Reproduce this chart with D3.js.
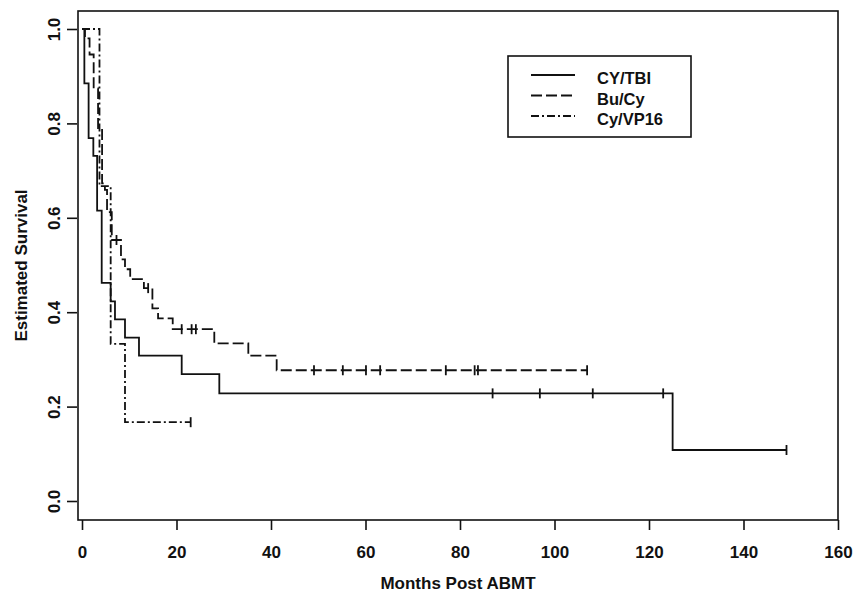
<!DOCTYPE html>
<html>
<head>
<meta charset="utf-8">
<script src="https://cdn.jsdelivr.net/npm/d3@7"></script>
<style>
  html, body { margin: 0; padding: 0; background: #fff; }
  svg { display: block; }
  text { font-family: "Liberation Sans", Arial, Helvetica, sans-serif; fill: #111; font-weight: bold; }
</style>
</head>
<body>
<svg id="chart" width="856" height="598"></svg>
<script>
// ---- data ----
const seriesNames = ["CY/TBI", "Bu/Cy", "Cy/VP16"];

const cyTbiTimes = [0, 0.5, 1.4, 2.4, 3.2, 4.17, 6.07, 6.98, 9.1, 12.06, 21.1, 29.06, 125.0, 149.1];
const cyTbiSurv  = [1.0, 0.885, 0.769, 0.731, 0.615, 0.462, 0.423, 0.385, 0.346, 0.308, 0.269, 0.228, 0.108, 0.108];
const cyTbiCensor = [86.9, 96.9, 108.1, 123.0, 149.1];

const buCyTimes = [0, 0.63, 1.6, 2.47, 3.4, 4.25, 4.85, 5.3, 6.3, 8.25, 9.1, 10.2, 13.1, 14.9, 16.1, 19.2, 28.0, 35.2, 41.2, 106.9];
const buCySurv  = [1.0, 0.98, 0.946, 0.874, 0.79, 0.673, 0.659, 0.612, 0.553, 0.512, 0.491, 0.470, 0.451, 0.408, 0.387, 0.364, 0.334, 0.308, 0.277, 0.277];
const buCyCensor = [7.3, 14.0, 21.1, 23.2, 24.1, 49.1, 55.2, 60.1, 63.1, 77.0, 83.1, 83.8, 106.9];

const vp16Times = [0, 3.7, 6.07, 9.1, 23.0];
const vp16Surv  = [1.0, 0.667, 0.333, 0.167, 0.167];
const vp16Censor = [23.0];

const xTicks = [0, 20, 40, 60, 80, 100, 120, 140, 160];
const yTicks = [0.0, 0.2, 0.4, 0.6, 0.8, 1.0];

const xTitle = "Months Post ABMT";
const yTitle = "Estimated Survival";

// ---- layout ----
const svg = d3.select("#chart");
const x = d3.scaleLinear().domain([0, 160]).range([82, 838]);
const y = d3.scaleLinear().domain([0, 1]).range([501, 29]);
const box = { left: 78, right: 838, top: 11, bottom: 520 };
const ink = "#111";

// frame
svg.append("rect")
  .attr("x", box.left).attr("y", box.top)
  .attr("width", box.right - box.left).attr("height", box.bottom - box.top)
  .attr("fill", "none").attr("stroke", ink).attr("stroke-width", 1.6);

// x axis
const gx = svg.append("g")
  .attr("transform", `translate(0,${box.bottom})`)
  .call(d3.axisBottom(x).tickValues(xTicks).tickSize(10).tickPadding(16).tickFormat(d3.format("d")));
gx.select(".domain").remove();
gx.selectAll(".tick line").attr("stroke", ink).attr("stroke-width", 1.6);
gx.selectAll(".tick text").style("font-size", "17px").attr("fill", ink);

// y axis
const gy = svg.append("g")
  .attr("transform", `translate(${box.left - 1},0)`)
  .call(d3.axisLeft(y).tickValues(yTicks).tickSize(10).tickFormat(d3.format(".1f")));
gy.select(".domain").remove();
gy.selectAll(".tick line").attr("stroke", ink).attr("stroke-width", 1.6);
gy.selectAll(".tick text")
  .attr("x", null).attr("dy", null)
  .attr("text-anchor", "middle")
  .attr("transform", "translate(-17,0) rotate(-90)")
  .style("font-size", "17px").attr("fill", ink);

// titles
svg.append("text")
  .attr("x", (box.left + box.right) / 2).attr("y", 589)
  .attr("text-anchor", "middle").style("font-size", "17px")
  .text(xTitle);
svg.append("text")
  .attr("transform", `translate(27,${(box.top + box.bottom) / 2}) rotate(-90)`)
  .attr("text-anchor", "middle").style("font-size", "17px")
  .text(yTitle);

// curves
const dashes = [null, "11,4", "8,3,2,3"];
const series = [
  { name: seriesNames[0], t: cyTbiTimes, s: cyTbiSurv, c: cyTbiCensor, dash: dashes[0] },
  { name: seriesNames[1], t: buCyTimes, s: buCySurv, c: buCyCensor, dash: dashes[1] },
  { name: seriesNames[2], t: vp16Times, s: vp16Surv, c: vp16Censor, dash: dashes[2] }
];
const line = d3.line().x(d => x(d[0])).y(d => y(d[1])).curve(d3.curveStepAfter);
function survAt(sr, t) {
  let v = sr.s[0];
  for (let i = 0; i < sr.t.length; i++) if (sr.t[i] <= t) v = sr.s[i];
  return v;
}

series.forEach(sr => {
  const pts = sr.t.map((t, i) => [t, sr.s[i]]);
  svg.append("path")
    .attr("d", line(pts))
    .attr("fill", "none").attr("stroke", ink).attr("stroke-width", 1.8)
    .attr("stroke-dasharray", sr.dash);
  svg.append("g").selectAll("line").data(sr.c).join("line")
    .attr("x1", d => x(d)).attr("x2", d => x(d))
    .attr("y1", d => y(survAt(sr, d)) - 5).attr("y2", d => y(survAt(sr, d)) + 5)
    .attr("stroke", ink).attr("stroke-width", 1.8);
});

// legend
const lg = svg.append("g");
lg.append("rect").attr("x", 508).attr("y", 56).attr("width", 183).attr("height", 81)
  .attr("fill", "#fff").attr("stroke", ink).attr("stroke-width", 1.6);
const rowY = i => 75 + i * 20.5;
series.forEach((sr, i) => {
  lg.append("line").attr("x1", 531).attr("x2", 575).attr("y1", rowY(i)).attr("y2", rowY(i))
    .attr("stroke", ink).attr("stroke-width", 1.8).attr("stroke-dasharray", sr.dash);
  lg.append("text").attr("x", 597).attr("y", rowY(i) + 9)
    .style("font-size", "16.5px").text(sr.name);
});
</script>
</body>
</html>
